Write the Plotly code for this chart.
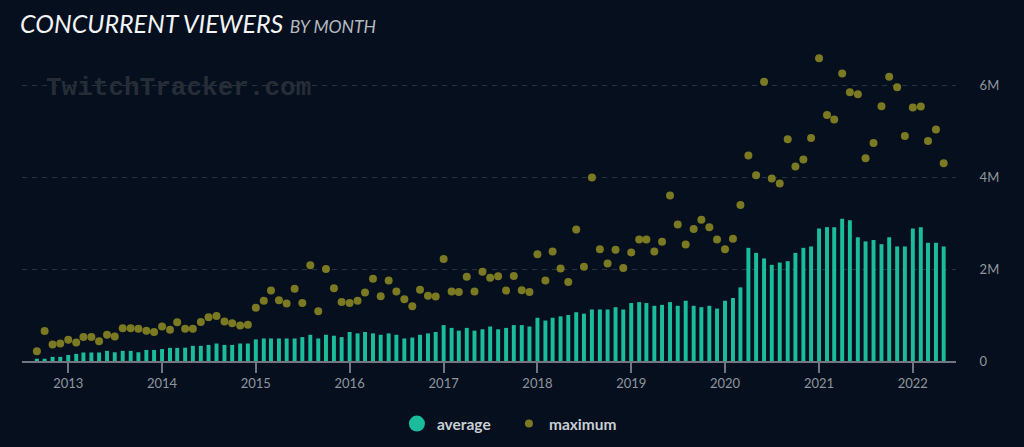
import pandas as pd
import plotly.graph_objects as go

# Months from Sep 2012 to May 2022
months = pd.date_range("2012-09-01", periods=117, freq="MS")

# Average concurrent viewers (millions)
average_m = [
    0.05, 0.05, 0.09, 0.09,
    0.13, 0.155, 0.185, 0.185, 0.185, 0.22, 0.19, 0.22, 0.22, 0.19, 0.24, 0.24,
    0.26, 0.285, 0.285, 0.29, 0.33, 0.33, 0.35, 0.38, 0.35, 0.35, 0.38, 0.38,
    0.47, 0.49, 0.49, 0.49, 0.49, 0.49, 0.52, 0.57, 0.49, 0.57, 0.55, 0.52,
    0.63, 0.60, 0.63, 0.60, 0.57, 0.60, 0.57, 0.49, 0.51, 0.57, 0.60, 0.63,
    0.78, 0.72, 0.66, 0.72, 0.66, 0.69, 0.75, 0.69, 0.72, 0.78, 0.78, 0.75,
    0.94, 0.88, 0.94, 0.97, 1.00, 1.06, 1.03, 1.12, 1.12, 1.12, 1.17, 1.12,
    1.26, 1.28, 1.26, 1.20, 1.22, 1.28, 1.20, 1.31, 1.20, 1.17, 1.20, 1.14,
    1.31, 1.37, 1.60, 2.46, 2.35, 2.23, 2.09, 2.14, 2.17, 2.35, 2.46, 2.49,
    2.88, 2.91, 2.91, 3.09, 3.06, 2.69, 2.60, 2.63, 2.54, 2.69, 2.49, 2.49,
    2.88, 2.91, 2.57, 2.57, 2.49,
]

# Maximum concurrent viewers (millions)
maximum_m = [
    0.21, 0.65, 0.36, 0.38,
    0.46, 0.40, 0.52, 0.52, 0.43, 0.57, 0.53, 0.71, 0.71, 0.70, 0.66, 0.63,
    0.75, 0.68, 0.84, 0.70, 0.70, 0.85, 0.95, 0.98, 0.86, 0.82, 0.77, 0.79,
    1.16, 1.31, 1.53, 1.32, 1.25, 1.57, 1.26, 2.08, 1.08, 2.00, 1.58, 1.28,
    1.26, 1.31, 1.49, 1.79, 1.41, 1.75, 1.51, 1.34, 1.19, 1.55, 1.42, 1.40,
    2.22, 1.51, 1.50, 1.83, 1.51, 1.94, 1.81, 1.84, 1.53, 1.85, 1.54, 1.50,
    2.32, 1.75, 2.38, 2.01, 1.72, 2.86, 2.05, 3.99, 2.43, 2.12, 2.42, 2.02,
    2.36, 2.64, 2.64, 2.38, 2.59, 3.60, 2.97, 2.53, 2.87, 3.07, 2.91, 2.64,
    2.43, 2.66, 3.39, 4.47, 4.04, 6.07, 3.97, 3.86, 4.82, 4.23, 4.38, 4.85,
    6.58, 5.35, 5.25, 6.25, 5.84, 5.80, 4.41, 4.74, 5.54, 6.18, 5.95, 4.89,
    5.51, 5.53, 4.78, 5.03, 4.30,
]

y_tickvals = [0, 2e6, 4e6, 6e6]
y_ticktext = ["0", "2M", "4M", "6M"]
year_ticks = [f"{y}-01-01" for y in range(2013, 2023)]
year_labels = [str(y) for y in range(2013, 2023)]

average = [v * 1e6 for v in average_m]
maximum = [v * 1e6 for v in maximum_m]

BG = "#050f1e"
TEAL = "#1abc9c"
OLIVE = "#7b7922"

fig = go.Figure()
fig.add_trace(go.Bar(x=months, y=average, name="average", marker_color=TEAL,
                     marker_line_width=0, showlegend=False))
fig.add_trace(go.Scatter(x=months, y=maximum, name="maximum", mode="markers",
                         marker=dict(color=OLIVE, size=8), showlegend=False))
# legend entries
fig.add_trace(go.Scatter(x=[None], y=[None], name="average", mode="markers",
                         marker=dict(color=TEAL, size=16)))
fig.add_trace(go.Scatter(x=[None], y=[None], name="maximum", mode="markers",
                         marker=dict(color=OLIVE, size=8)))

fig.update_layout(
    width=1024, height=447,
    paper_bgcolor=BG, plot_bgcolor=BG,
    margin=dict(l=22, r=68, t=39, b=86, autoexpand=False),
    bargap=0.45,
    showlegend=True,
    legend=dict(orientation="h", xref="container", yref="container",
                x=0.497, xanchor="center", y=1 - 424 / 447, yanchor="middle",
                font=dict(family="Lato", size=15.5, color="#c9ced3", weight="bold"),
                entrywidth=67,
                itemsizing="trace", bgcolor="rgba(0,0,0,0)"),
    xaxis=dict(
        type="date", range=["2012-07-05", "2022-06-18"],
        tickvals=year_ticks, ticktext=year_labels,
        showgrid=False, zeroline=False,
        showline=True, linecolor="#707780", linewidth=1.5,
        ticks="outside", ticklen=10, tickcolor="#707780", tickwidth=1.5,
        tickfont=dict(family="Lato", size=13, color="#8f969d"),
    ),
    yaxis=dict(
        range=[0, 7e6], side="right",
        tickvals=y_tickvals, ticktext=y_ticktext,
        showgrid=True, gridcolor="#283240", griddash="5px,5px", gridwidth=1,
        zeroline=False, showline=False,
        ticks="outside", ticklen=20, tickcolor="rgba(0,0,0,0)",
        tickfont=dict(family="Lato", size=13, color="#8f969d"),
    ),
    annotations=[
        dict(text="<i>CONCURRENT VIEWERS</i> <span style='font-size:17.5px;color:#b4b9bf'><i>BY MONTH</i></span>",
             xref="paper", yref="paper", x=(18 - 22) / 934, y=(361 - 23) / 322,
             xanchor="left", yanchor="middle", showarrow=False,
             font=dict(family="Lato", size=25, color="#f2f4f6")),
        dict(text="<b>TwitchTracker.com</b>", xref="paper", yref="paper",
             x=(178.5 - 22) / 934, y=(361 - 88) / 322, xanchor="center", yanchor="middle",
             showarrow=False, font=dict(family="Liberation Mono", size=26, color="#262d37")),
    ],
)

fig.write_html(
    "out.html",
    config={"displayModeBar": False},
    post_script="document.body.style.margin='0';document.body.style.overflow='hidden';"
                "document.body.style.background='" + BG + "';",
)
